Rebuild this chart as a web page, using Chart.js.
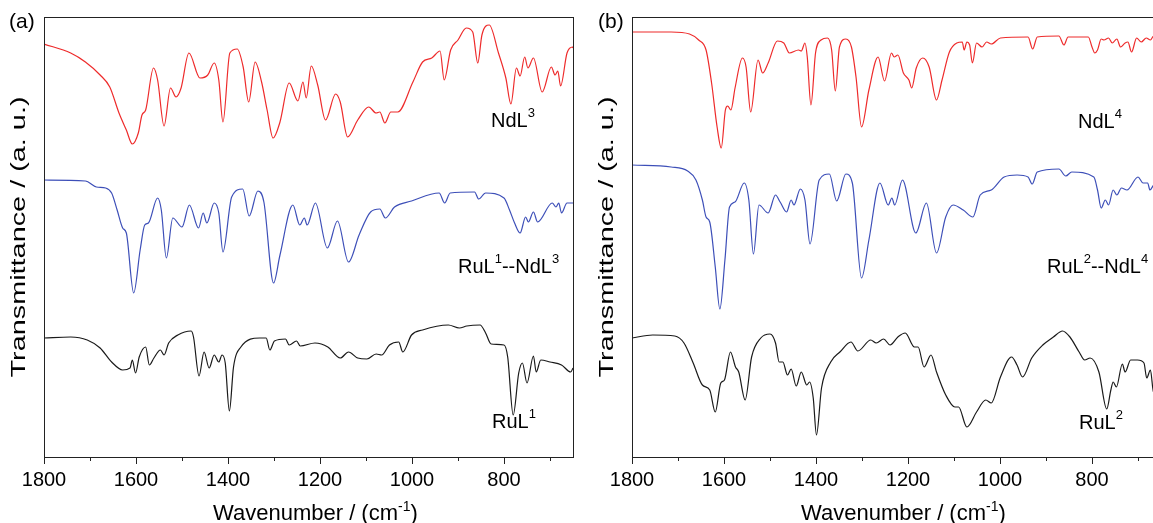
<!DOCTYPE html>
<html>
<head>
<meta charset="utf-8">
<script src="https://cdn.jsdelivr.net/npm/chart.js@4"></script>
<style>
  html, body { margin: 0; padding: 0; background: #fff; overflow: hidden; }
  #wrap { position: relative; width: 1153px; height: 523px; overflow: hidden; }
  .panel { position: absolute; top: 0; height: 523px; }
  #pa { left: 0; width: 590px; }
  #pb { left: 590px; width: 600px; }
</style>
</head>
<body>
<div id="wrap">
  <div class="panel" id="pa"><canvas id="chartA" width="590" height="523"></canvas></div>
  <div class="panel" id="pb"><canvas id="chartB" width="600" height="523"></canvas></div>
</div>
<script>
// Wavenumber axis (cm-1), shared by both panels
const tickValues = [1800, 1700, 1600, 1500, 1400, 1300, 1200, 1100, 1000, 900, 800, 700];
const xMin = 650;
const xMax = 1800;

// Panel (a) - NdL3 (red)
const ndl3Wn = [1800, 1742, 1710, 1678, 1657, 1637, 1621, 1608, 1595, 1587, 1579, 1562, 1553, 1539, 1525, 1513, 1502, 1485, 1461, 1444, 1430, 1420, 1411, 1396, 1380, 1367, 1355, 1341, 1327, 1315, 1302, 1287, 1267, 1248, 1237, 1230, 1219, 1205, 1188, 1166, 1156, 1140, 1118, 1094, 1078, 1070, 1059, 1046, 1031, 998, 977, 957, 939, 930, 916, 900, 882, 868, 857, 848, 832, 812, 796, 785, 773, 765, 755, 748, 736, 717, 697, 689, 683, 677, 663, 651, 650];
const ndl3T = [413, 404, 395, 382, 370, 344, 327, 313, 324, 342, 347, 389, 377, 331, 369, 360, 369, 404, 379, 382, 394, 377, 335, 404, 408, 390, 355, 395, 375, 347, 319, 335, 374, 356, 375, 359, 391, 372, 337, 363, 355, 320, 337, 350, 344, 345, 334, 345, 345, 375, 395, 399, 406, 377, 407, 417, 429, 425, 394, 422, 432, 404, 379, 353, 389, 381, 400, 389, 399, 365, 390, 382, 386, 371, 404, 410, 409];

// Panel (a) - RuL1--NdL3 (blue)
const rul1ndl3Wn = [1800, 1710, 1686, 1666, 1653, 1641, 1629, 1621, 1605, 1591, 1581, 1573, 1553, 1545, 1534, 1520, 1500, 1484, 1464, 1454, 1446, 1430, 1420, 1411, 1392, 1368, 1354, 1335, 1322, 1301, 1287, 1259, 1244, 1234, 1228, 1210, 1184, 1162, 1138, 1115, 1090, 1070, 1058, 1038, 1001, 941, 929, 917, 864, 855, 840, 800, 788, 777, 765, 753, 747, 736, 727, 695, 687, 681, 675, 663, 650];
const rul1ndl3T = [277, 276, 270, 269, 264, 247, 229, 224, 164, 207, 232, 234, 259, 247, 199, 239, 230, 252, 229, 244, 234, 254, 244, 205, 260, 268, 241, 266, 255, 174, 202, 252, 232, 239, 232, 254, 209, 236, 195, 222, 245, 248, 239, 250, 256, 264, 254, 264, 265, 258, 264, 259, 247, 234, 224, 240, 235, 245, 235, 254, 250, 254, 244, 254, 254];

// Panel (a) - RuL1 (black)
const rul1Wn = [1800, 1742, 1706, 1678, 1653, 1629, 1613, 1608, 1601, 1593, 1579, 1571, 1561, 1547, 1539, 1529, 1509, 1480, 1475, 1463, 1452, 1441, 1430, 1420, 1413, 1406, 1397, 1388, 1372, 1331, 1317, 1309, 1299, 1275, 1267, 1251, 1243, 1211, 1183, 1156, 1138, 1118, 1098, 1078, 1066, 1049, 1029, 1020, 1001, 977, 921, 897, 881, 852, 840, 828, 800, 792, 780, 768, 760, 750, 736, 730, 720, 700, 675, 655, 650];
const rul1T = [119, 120, 117, 109, 95, 87, 89, 97, 84, 100, 110, 92, 99, 107, 102, 114, 122, 126, 120, 81, 105, 89, 102, 95, 102, 94, 46, 90, 110, 119, 119, 107, 116, 118, 112, 116, 111, 114, 110, 99, 105, 99, 98, 103, 102, 112, 115, 105, 122, 127, 132, 129, 131, 132, 124, 113, 112, 100, 42, 84, 94, 74, 101, 85, 97, 95, 92, 85, 89];

// Panel (b) - NdL4 (red)
const ndl4Wn = [1800, 1715, 1675, 1655, 1639, 1627, 1615, 1606, 1597, 1592, 1585, 1576, 1560, 1552, 1542, 1526, 1516, 1504, 1484, 1470, 1458, 1438, 1432, 1424, 1419, 1411, 1401, 1389, 1375, 1366, 1358, 1349, 1335, 1323, 1313, 1301, 1285, 1265, 1251, 1236, 1230, 1222, 1210, 1198, 1192, 1182, 1168, 1154, 1138, 1126, 1110, 1094, 1082, 1078, 1072, 1066, 1060, 1051, 1039, 1029, 1019, 999, 939, 929, 919, 872, 861, 852, 808, 800, 794, 788, 780, 774, 764, 756, 746, 738, 728, 722, 714, 703, 693, 682, 673, 666, 650];
const ndl4T = [425, 425, 423, 417, 407, 374, 330, 309, 347, 351, 347, 369, 399, 390, 345, 397, 384, 394, 416, 414, 404, 407, 406, 414, 400, 352, 404, 417, 419, 407, 366, 410, 418, 410, 380, 330, 367, 400, 376, 404, 400, 402, 384, 377, 369, 389, 399, 390, 357, 377, 405, 414, 415, 407, 415, 412, 394, 414, 410, 415, 413, 419, 420, 408, 420, 421, 412, 420, 420, 410, 404, 407, 418, 417, 419, 414, 418, 410, 414, 415, 405, 419, 415, 419, 417, 421, 420];

// Panel (b) - RuL2--NdL4 (blue)
const rul2ndl4Wn = [1800, 1715, 1679, 1661, 1647, 1639, 1631, 1619, 1609, 1598, 1588, 1576, 1556, 1546, 1536, 1524, 1504, 1488, 1478, 1464, 1454, 1448, 1434, 1424, 1413, 1393, 1371, 1355, 1335, 1321, 1301, 1285, 1261, 1243, 1235, 1229, 1212, 1183, 1160, 1138, 1118, 1102, 1080, 1059, 1043, 1019, 991, 963, 939, 930, 919, 872, 857, 844, 796, 788, 780, 771, 764, 754, 746, 736, 724, 700, 689, 679, 674, 666, 650];
const rul2ndl4T = [292, 290, 286, 277, 257, 240, 235, 190, 148, 197, 250, 255, 274, 257, 203, 252, 244, 262, 255, 245, 257, 252, 268, 257, 213, 277, 283, 256, 283, 274, 179, 217, 274, 252, 259, 252, 277, 224, 254, 204, 240, 252, 247, 240, 262, 267, 280, 282, 280, 273, 285, 288, 281, 285, 280, 267, 249, 257, 252, 267, 262, 269, 267, 280, 274, 274, 267, 272, 275];

// Panel (b) - RuL2 (black)
const rul2Wn = [1800, 1755, 1707, 1687, 1667, 1647, 1631, 1619, 1607, 1599, 1586, 1575, 1568, 1554, 1540, 1520, 1500, 1488, 1480, 1472, 1462, 1454, 1443, 1432, 1420, 1414, 1406, 1399, 1388, 1368, 1348, 1324, 1309, 1281, 1269, 1253, 1239, 1222, 1206, 1186, 1178, 1165, 1150, 1138, 1118, 1098, 1090, 1072, 1051, 1031, 1019, 999, 975, 963, 951, 931, 907, 884, 864, 848, 828, 816, 804, 785, 768, 759, 754, 747, 734, 728, 716, 701, 687, 681, 673, 666, 650];
const rul2T = [119, 122, 121, 114, 94, 72, 67, 45, 74, 77, 105, 90, 85, 57, 100, 119, 123, 114, 95, 95, 82, 88, 71, 85, 72, 75, 59, 22, 69, 95, 105, 115, 106, 117, 114, 118, 112, 120, 124, 110, 110, 90, 102, 85, 62, 50, 50, 30, 45, 57, 54, 80, 100, 92, 80, 99, 112, 120, 126, 120, 105, 97, 99, 85, 48, 67, 75, 70, 93, 85, 97, 97, 94, 79, 87, 64, 70];

const RED = '#ee2b2b';
const BLUE = '#3d4fb8';
const BLACK = '#1a1a1a';
const FONT = '"Liberation Sans", Arial, sans-serif';

Chart.defaults.font.family = FONT;
Chart.defaults.color = '#000';

function series(wn, t) {
    return wn.map((w, i) => ({ x: w, y: t[i] }));
}

// draw text made of [text, isSuperscript] pieces
function drawRich(ctx, x, y, parts, size, supSize, rise) {
    let cx = x;
    parts.forEach(([txt, sup]) => {
        ctx.font = (sup ? supSize : size) + 'px ' + FONT;
        ctx.fillText(txt, cx, sup ? y - rise : y);
        cx += ctx.measureText(txt).width;
    });
}

// frame, minor/major ticks, titles and curve labels
const framePlugin = {
    id: 'frame',
    afterDraw(chart, args, opts) {
        const { ctx, chartArea: a } = chart;
        const x = chart.scales.x;
        ctx.save();
        ctx.strokeStyle = '#222';
        ctx.lineWidth = 1;
        ctx.strokeRect(Math.round(a.left) + 0.5, Math.round(a.top) + 0.5,
            Math.round(a.right - a.left), Math.round(a.bottom - a.top));
        tickValues.forEach(v => {
            const px = Math.round(x.getPixelForValue(v)) + 0.5;
            const len = v % 200 === 0 ? 7 : 4;
            ctx.beginPath();
            ctx.moveTo(px, a.bottom);
            ctx.lineTo(px, a.bottom + len);
            ctx.stroke();
        });

        ctx.fillStyle = '#000';
        ctx.textBaseline = 'alphabetic';
        ctx.textAlign = 'left';

        // panel letter
        ctx.font = '21px ' + FONT;
        ctx.fillText(opts.letter, opts.letterX, 28);

        // x title
        drawRich(ctx, opts.xTitleX, 520,
            [['Wavenumber / (cm', false], ['-1', true], [')', false]], 22, 14, 9);

        // y title, stretched along its length to match the reference
        const yt = 'Transmittance / (a. u.)';
        ctx.save();
        ctx.translate(opts.yTitleX, 237);
        ctx.rotate(-Math.PI / 2);
        ctx.font = '21px ' + FONT;
        const w = ctx.measureText(yt).width;
        ctx.scale(281 / w, 1);
        ctx.textAlign = 'center';
        ctx.textBaseline = 'middle';
        ctx.fillText(yt, 0, 0);
        ctx.restore();

        // curve labels
        opts.labels.forEach(l => drawRich(ctx, l.x, l.y, l.parts, 20, 13, 10));
        ctx.restore();
    }
};

function makeChart(id, sets, pad, frameOpts) {
    return new Chart(document.getElementById(id), {
        type: 'line',
        data: {
            datasets: sets.map(s => ({
                data: series(s.wn, s.t),
                borderColor: s.color,
                borderWidth: 1.2,
                pointRadius: 0,
                fill: false,
                cubicInterpolationMode: 'monotone'
            }))
        },
        options: {
            responsive: false,
            animation: false,
            layout: { padding: pad },
            plugins: {
                legend: { display: false },
                tooltip: { enabled: false },
                frame: frameOpts
            },
            scales: {
                x: {
                    type: 'linear',
                    reverse: true,
                    min: xMin,
                    max: xMax,
                    afterBuildTicks: s => { s.ticks = tickValues.map(v => ({ value: v })); },
                    grid: { display: false, drawTicks: false },
                    border: { display: false },
                    ticks: {
                        padding: 11,
                        color: '#000',
                        font: { size: 20 },
                        maxRotation: 0,
                        autoSkip: false,
                        callback: v => (v % 200 === 0 ? String(v) : '')
                    }
                },
                y: { display: false, min: 0, max: 440 }
            }
        },
        plugins: [framePlugin]
    });
}

makeChart('chartA', [
    { wn: ndl3Wn, t: ndl3T, color: RED },
    { wn: rul1ndl3Wn, t: rul1ndl3T, color: BLUE },
    { wn: rul1Wn, t: rul1T, color: BLACK }
], { left: 44, right: 17, top: 17, bottom: 20 }, {
    letter: '(a)', letterX: 9, xTitleX: 213, yTitleX: 19,
    labels: [
        { x: 491, y: 127, parts: [['NdL', false], ['3', true]] },
        { x: 458, y: 273, parts: [['RuL', false], ['1', true], ['--NdL', false], ['3', true]] },
        { x: 492, y: 428, parts: [['RuL', false], ['1', true]] }
    ]
});

makeChart('chartB', [
    { wn: ndl4Wn, t: ndl4T, color: RED },
    { wn: rul2ndl4Wn, t: rul2ndl4T, color: BLUE },
    { wn: rul2Wn, t: rul2T, color: BLACK }
], { left: 42, right: 29, top: 17, bottom: 20 }, {
    letter: '(b)', letterX: 8, xTitleX: 211, yTitleX: 17,
    labels: [
        { x: 488, y: 128, parts: [['NdL', false], ['4', true]] },
        { x: 457, y: 273, parts: [['RuL', false], ['2', true], ['--NdL', false], ['4', true]] },
        { x: 489, y: 429, parts: [['RuL', false], ['2', true]] }
    ]
});
</script>
</body>
</html>
